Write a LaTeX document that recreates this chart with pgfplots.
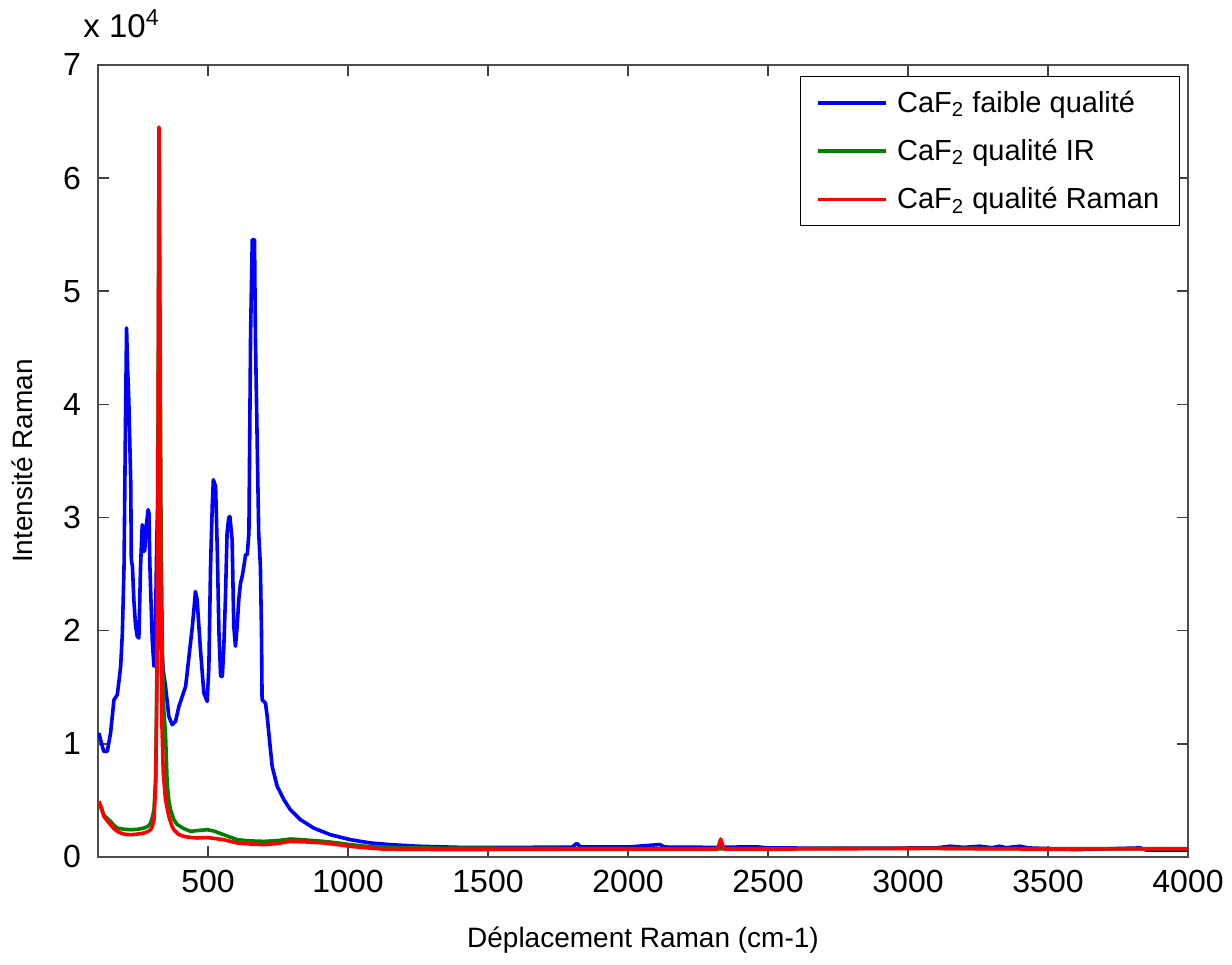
\documentclass[border=0pt]{standalone}
\usepackage{fontspec}
\setmainfont{Liberation Sans}
\usepackage{pgfplots}
\pgfplotsset{compat=1.18}
\definecolor{cblue}{RGB}{0,0,255}
\definecolor{cgreen}{RGB}{0,128,0}
\definecolor{cred}{RGB}{255,0,0}
\begin{document}
\begin{tikzpicture}
\begin{axis}[
  scale only axis,
  width=545pt, height=396pt,
  xmin=107, xmax=4000, ymin=0, ymax=70000,
  xtick={500,1000,1500,2000,2500,3000,3500,4000},
  xticklabels={500,1000,1500,2000,2500,3000,3500,4000},
  ytick={0,10000,20000,30000,40000,50000,60000,70000},
  yticklabels={0,1,2,3,4,5,6,7},
  scaled y ticks=false,
  tick align=inside,
  major tick length=5.5pt,
  tick style={black!75, line width=0.8pt},
  axis line style={black!70, line width=1pt},
  ticklabel style={font=\fontsize{16}{19}\selectfont},
  yticklabel style={xshift=-5pt},
  xticklabel style={yshift=-3pt},
  xlabel={D\'eplacement Raman (cm-1)},
  ylabel={Intensit\'e Raman},
  every axis x label/.style={at={(rel axis cs:0.5,0)}, yshift=-41.5pt, anchor=center, font=\fontsize{14}{17}\selectfont},
  every axis y label/.style={at={(rel axis cs:0,0.5)}, xshift=-38pt, rotate=90, anchor=center, font=\fontsize{14}{17}\selectfont},
  legend style={at={(rel axis cs:1,1)}, anchor=north east, xshift=-4pt, yshift=-5.5pt,
    draw=black, line width=0.7pt, font=\fontsize{14.5}{17}\selectfont,
    inner xsep=8pt, inner ysep=5pt, row sep=8pt, cells={anchor=west}},
  legend image code/.code={\draw[#1, line width=1.8pt] (0pt,0pt) -- (34pt,0pt); \path (36.5pt,0pt);},
  clip=true,
]
\addplot[cblue, line width=1.8pt, line join=round] coordinates {
(110,10960)(122,9800)(128,9330)(140,9330)(152,10960)(164,13900)(176,14340)(188,16850)(194,19800)(200,25690)
(205,38000)(209,46760)(213,43000)(217,40420)(224,33060)(226,26280)(230,25690)(235,22740)(241,20500)(247,19500)
(253,19350)(259,25690)(265,29370)(268,29000)(271,27000)(274,27160)(280,29370)(286,30700)(289,30400)(292,26000)
(295,23620)(301,19000)(307,16850)(312,20000)(317,28000)(322,33000)(327,25000)(333,19000)(340,16500)(348,15080)
(360,12430)(372,11690)(384,11990)(396,13310)(408,14190)(420,15080)(432,17730)(444,20380)(450,22000)(455,23470)
(461,22740)(467,20500)(473,18320)(485,14490)(497,13750)(503,16850)(509,25690)(515,31000)(519,33350)(527,32750)
(533,27160)(539,19800)(545,15960)(551,15960)(556,18320)(562,22740)(568,28630)(574,30000)(578,30100)(586,28040)
(592,20380)(598,18620)(604,20380)(610,22800)(616,24220)(622,24800)(628,25690)(634,26720)(640,26720)(646,28630)
(652,46310)(658,54560)(666,54560)(669,46310)(675,37470)(681,28630)(687,25690)(691,19800)(693,13900)(705,13610)
(711,12500)(717,10960)(729,8010)(747,6240)(771,5060)(794,4180)(830,3300)(877,2560)(937,1970)(1008,1530)
(1080,1240)(1151,1090)(1250,950)(1400,850)(1600,850)(1800,870)(1817,1200)(1830,900)(2000,880)(2114,1100)
(2130,880)(2300,850)(2459,900)(2500,800)(2700,780)(2900,780)(3100,800)(3149,950)(3200,850)(3256,950)
(3300,820)(3327,950)(3350,820)(3400,950)(3430,800)(3600,650)(3830,800)(3850,620)(4000,600)
};
\addlegendentry{CaF\textsubscript{2} faible qualit\'e}
\addplot[cgreen, line width=1.8pt, line join=round] coordinates {
(110,4920)(120,4200)(128,3700)(140,3400)(152,3150)(164,2800)(176,2560)(200,2450)(224,2410)(250,2450)
(271,2560)(285,2700)(295,3000)(301,3500)(307,4180)(313,7000)(316,13000)(319,21000)(322,42000)(325,64500)
(328,50000)(332,30000)(337,18000)(342,13000)(348,10960)(354,6540)(360,5000)(366,4180)(378,3300)(390,2860)
(414,2500)(438,2270)(470,2350)(497,2410)(520,2300)(556,1970)(580,1750)(604,1530)(650,1420)(699,1380)
(750,1450)(794,1590)(850,1500)(913,1380)(960,1250)(1008,1090)(1060,950)(1126,880)(1200,800)(1400,780)
(1600,760)(1800,740)(2000,730)(2200,720)(2400,720)(2600,740)(2800,760)(3000,760)(3200,750)(3400,740)
(3600,730)(3800,730)(4000,730)
};
\addlegendentry{CaF\textsubscript{2} qualit\'e IR}
\addplot[cred, line width=1.8pt, line join=round] coordinates {
(110,4920)(120,4300)(128,3590)(140,3200)(152,2860)(164,2500)(176,2270)(190,2100)(205,2000)(224,1970)
(240,2000)(255,2050)(271,2120)(285,2250)(295,2410)(301,2700)(307,3300)(313,6540)(316,12000)(319,19800)
(322,40000)(325,64500)(328,45000)(331,25000)(335,12000)(340,7500)(348,5060)(360,3590)(370,2800)(378,2410)
(395,2000)(414,1820)(440,1720)(461,1680)(480,1700)(497,1720)(520,1650)(556,1530)(580,1380)(604,1240)
(650,1150)(699,1090)(750,1200)(794,1380)(850,1330)(913,1240)(960,1100)(1008,940)(1060,820)(1126,700)
(1200,680)(1400,650)(1600,680)(1800,690)(2000,690)(2200,700)(2320,700)(2331,1590)(2342,700)(2500,700)
(2700,720)(2900,740)(3100,760)(3300,720)(3500,700)(3700,720)(4000,720)
};
\addlegendentry{CaF\textsubscript{2} qualit\'e Raman\hspace{18pt}}
\coordinate (bl) at (rel axis cs:0,0);
\coordinate (tr) at (rel axis cs:1,1);
\coordinate (tl) at (rel axis cs:0,1);
\end{axis}
\node[anchor=base west, font=\fontsize{16.5}{19}\selectfont, inner sep=0pt] at ([xshift=-7.5pt, yshift=13.5pt]tl) {x 10\textsuperscript{4}};
\pgfresetboundingbox
\path ([xshift=-49pt, yshift=-54pt]bl) rectangle ([xshift=22pt, yshift=32.5pt]tr);
\end{tikzpicture}
\end{document}
